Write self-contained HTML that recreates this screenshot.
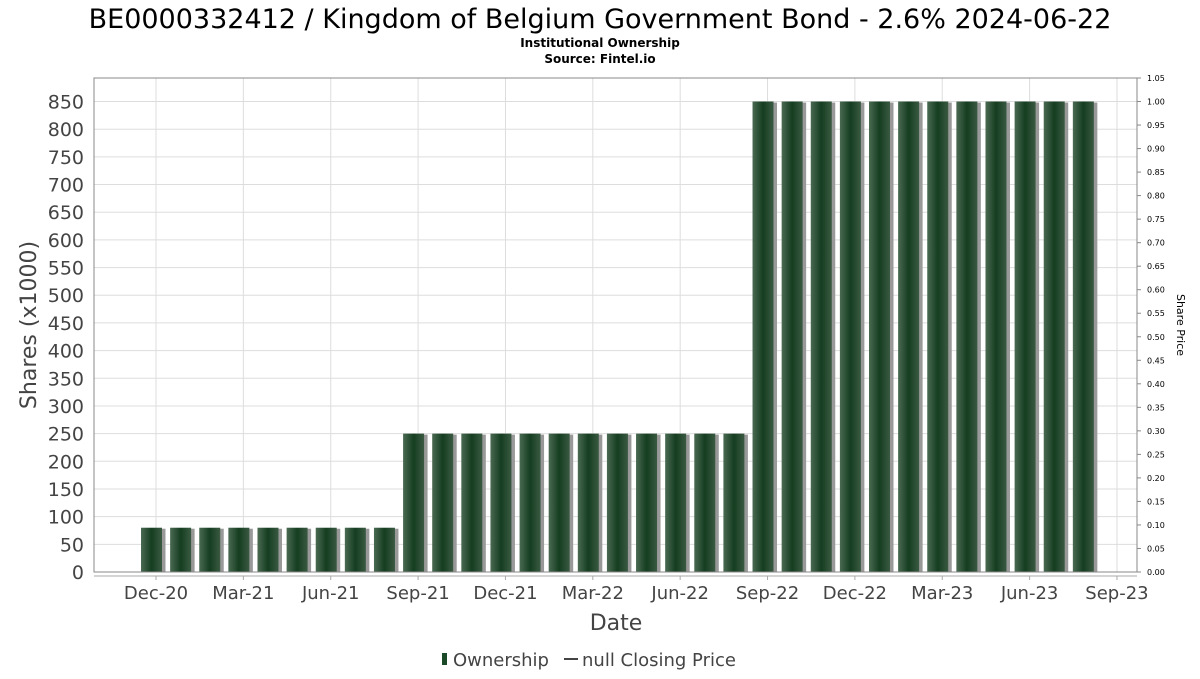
<!DOCTYPE html>
<html><head><meta charset="utf-8"><style>
body{margin:0;background:#fff;font-family:"DejaVu Sans","Liberation Sans",sans-serif;}
svg text{font-family:"DejaVu Sans","Liberation Sans",sans-serif;}
</style></head><body>
<svg id="chart" width="1200" height="675" xmlns="http://www.w3.org/2000/svg">
<defs>
<linearGradient id="barg" x1="0" x2="1" y1="0" y2="0">
<stop offset="0" stop-color="#4a6a52"/><stop offset="0.5" stop-color="#153d20"/><stop offset="1" stop-color="#3a5a42"/>
</linearGradient>
</defs>
<text x="600" y="28" font-size="27" text-anchor="middle" fill="#000">BE0000332412 / Kingdom of Belgium Government Bond - 2.6% 2024-06-22</text>
<text x="600" y="47" font-size="12" font-weight="bold" text-anchor="middle">Institutional Ownership</text>
<text x="600" y="63" font-size="12" font-weight="bold" text-anchor="middle">Source: Fintel.io</text>
<g id="grid"></g>
<g id="bars"></g>
<rect x="94" y="78" width="1043" height="494" fill="none" stroke="#888"/>
<line x1="94" y1="576" x2="1137" y2="576" stroke="#aaa"/>
<g id="axes"></g>
<text transform="translate(36,325) rotate(-90)" font-size="22" fill="#444" text-anchor="middle">Shares (x1000)</text>
<text transform="translate(1177,325) rotate(90)" font-size="11" fill="#000" text-anchor="middle">Share Price</text>
<text x="616" y="630" font-size="22" fill="#444" text-anchor="middle">Date</text>
<g>
<rect x="442" y="653" width="5" height="12" fill="#1a4a28"/>
<text x="453" y="666" font-size="18" fill="#444">Ownership</text>
<line x1="564" y1="659" x2="578" y2="659" stroke="#444" stroke-width="2"/>
<text x="582" y="666" font-size="18" fill="#444">null Closing Price</text>
</g>
</svg>
<script>
const values=[80,80,80,80,80,80,80,80,80,250,250,250,250,250,250,250,250,250,250,250,250,850,850,850,850,850,850,850,850,850,850,850,850];
const leftTicks=[0,50,100,150,200,250,300,350,400,450,500,550,600,650,700,750,800,850];
const rightTicks=[0,0.05,0.1,0.15,0.2,0.25,0.3,0.35,0.4,0.45,0.5,0.55,0.6,0.65,0.7,0.75,0.8,0.85,0.9,0.95,1.0,1.05];
const dateLabels=["Dec-20","Mar-21","Jun-21","Sep-21","Dec-21","Mar-22","Jun-22","Sep-22","Dec-22","Mar-23","Jun-23","Sep-23"];
const NS="http://www.w3.org/2000/svg";
const y=v=>572-v*(494/892.5);
const y2=v=>572-v*(494/1.05);
const x=i=>151.5+i*29.12;
function mk(t,a,p){const e=document.createElementNS(NS,t);for(const k in a)e.setAttribute(k,a[k]);p.appendChild(e);return e;}
const grid=document.getElementById('grid'),bars=document.getElementById('bars'),axes=document.getElementById('axes');
leftTicks.forEach(v=>{
 mk('line',{x1:94,x2:1137,y1:y(v),y2:y(v),stroke:'#ddd'},grid);
 const t=mk('text',{x:84,y:y(v)+7,'font-size':19,fill:'#444','text-anchor':'end'},axes);t.textContent=v;
 
 
});
rightTicks.forEach(v=>{
 mk('line',{x1:1137,x2:1141,y1:y2(v),y2:y2(v),stroke:'#888'},axes);
 const t=mk('text',{x:1147,y:y2(v)+3,'font-size':8,fill:'#000'},axes);t.textContent=v.toFixed(2);
 
 
});
dateLabels.forEach((d,k)=>{
 const px=x(3*k+0.155);
 mk('line',{x1:px,x2:px,y1:78,y2:572,stroke:'#ddd'},grid);
 mk('line',{x1:px,x2:px,y1:576,y2:580,stroke:'#aaa'},axes);
 const t=mk('text',{x:px,y:599,'font-size':18,fill:'#444','text-anchor':'middle'},axes);t.textContent=d;
 
 
});
values.forEach((v,i)=>{
 const s=mk('rect',{x:x(i)-10+3,y:y(v)+1,width:21,height:572-y(v)-1,fill:'#999'},bars);
 
 
 const b=mk('rect',{x:x(i)-10.5,y:y(v),width:21,height:572-y(v),fill:'url(#barg)'},bars);
 
 
});
</script>
</body></html>
